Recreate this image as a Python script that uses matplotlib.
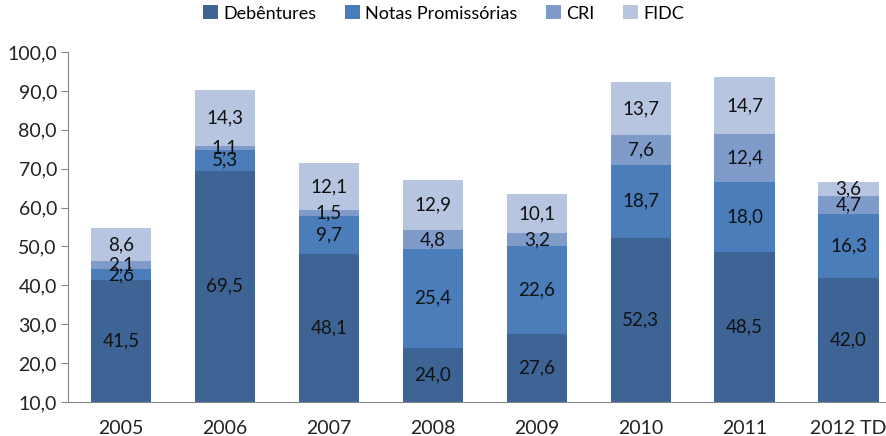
import matplotlib
matplotlib.use("Agg")
import matplotlib.pyplot as plt
import numpy as np

plt.rcParams['font.family'] = ['Lato', 'DejaVu Sans']

# dados do gráfico
anos = ['2005', '2006', '2007', '2008', '2009', '2010', '2011', '2012 TD']
debentures = [41.5, 69.5, 48.1, 24.0, 27.6, 52.3, 48.5, 42.0]
notas = [2.6, 5.3, 9.7, 25.4, 22.6, 18.7, 18.0, 16.3]
cri = [2.1, 1.1, 1.5, 4.8, 3.2, 7.6, 12.4, 4.7]
fidc = [8.6, 14.3, 12.1, 12.9, 10.1, 13.7, 14.7, 3.6]

series = [('Debêntures', debentures, '#3E6496'),
          ('Notas Promissórias', notas, '#4A7DBA'),
          ('CRI', cri, '#7F9BCA'),
          ('FIDC', fidc, '#B8C5E0')]

ymin, ymax = 10, 100

fig = plt.figure(figsize=(8.87, 4.36), dpi=100)
ax = fig.add_axes([68 / 887, 1 - 402 / 436, (887 - 68) / 887, 350 / 436])

x = np.arange(len(anos))
base = np.zeros(len(anos))
for nome, vals, cor in series:
    vals = np.array(vals)
    ax.bar(x, vals, 0.58, bottom=base, color=cor, label=nome, zorder=2)
    for xi, b, v in zip(x, base, vals):
        lo = max(b, ymin)
        hi = b + v
        ax.text(xi, (lo + hi) / 2, f'{v:.1f}'.replace('.', ','),
                ha='center', va='center', fontsize=13.5, color='#111111', zorder=3)
    base = base + vals

ax.set_ylim(ymin, ymax)
ax.set_xlim(-0.51, 7.37)
ax.set_yticks(np.arange(10, 101, 10))
ax.set_yticklabels([f'{v:.1f}'.replace('.', ',') for v in np.arange(10, 101, 10)])
ax.set_xticks(x)
ax.set_xticklabels(anos)
ax.tick_params(axis='both', labelsize=14, colors='#222222', length=5, color='#868686')
ax.tick_params(axis='y', pad=3)
ax.tick_params(axis='x', length=0, pad=13)
for s in ['top', 'right']:
    ax.spines[s].set_visible(False)
for s in ['left', 'bottom']:
    ax.spines[s].set_color('#868686')

fig.legend(loc='upper center', bbox_to_anchor=(0.5, 1.025), ncol=4, frameon=False,
           fontsize=13, handlelength=0.8, handleheight=0.8, handletextpad=0.3,
           columnspacing=1.6)

fig.savefig('out.png', dpi=100)
